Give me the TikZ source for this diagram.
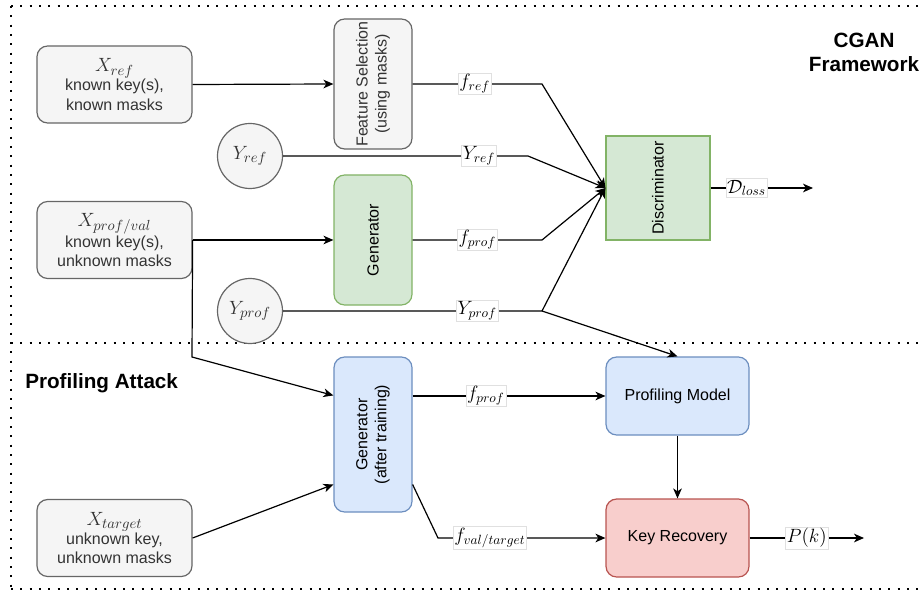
\documentclass[tikz,border=0pt]{standalone}
\usepackage{fontspec}
\setmainfont{Liberation Sans}
\usetikzlibrary{arrows.meta,calc}
\definecolor{grayfill}{HTML}{F5F5F5}
\definecolor{graydraw}{HTML}{666666}
\definecolor{graytext}{HTML}{333333}
\definecolor{greenfill}{HTML}{D5E8D4}
\definecolor{greendraw}{HTML}{82B366}
\definecolor{bluefill}{HTML}{DAE8FC}
\definecolor{bluedraw}{HTML}{6C8EBF}
\definecolor{redfill}{HTML}{F8CECC}
\definecolor{reddraw}{HTML}{B85450}
\newcommand{\bigmath}[1]{{\fontsize{15.5}{15}\selectfont$#1$}}
\begin{document}
\begin{tikzpicture}[x=0.75pt,y=-0.75pt,
  base/.style={font=\fontsize{12}{14.3}\selectfont, align=center, line width=0.9pt, inner sep=0pt},
  databox/.style={base, rectangle, rounded corners=8pt, fill=grayfill, draw=graydraw, text=graytext,
    minimum width=116.25pt, minimum height=57.75pt},
  labelcircle/.style={base, circle, fill=grayfill, draw=graydraw, text=graytext, minimum size=48.75pt},
  graybox/.style={base, rectangle, rounded corners=8pt, fill=grayfill, draw=graydraw},
  greenbox/.style={base, rectangle, rounded corners=8pt, fill=greenfill, draw=greendraw},
  bluebox/.style={base, rectangle, rounded corners=8pt, fill=bluefill, draw=bluedraw},
  redbox/.style={base, rectangle, rounded corners=8pt, fill=redfill, draw=reddraw},
  vtext/.style={font=\fontsize{12}{14.3}\selectfont, align=center, rotate=90, inner sep=0pt},
  conn/.style={line width=0.9pt, draw=black},
  arr/.style={conn, -{Stealth[length=7.5pt,width=6.5pt,inset=2.2pt]}},
  lbl/.style={fill=white, draw=black!12, line width=0.4pt, inner sep=1pt,
    font=\fontsize{14.5}{14.5}\selectfont},
  frameline/.style={line width=1.6pt, dash pattern=on 1.6pt off 5.4pt},
  title/.style={font=\fontsize{15.5}{18}\bfseries\selectfont, align=center, inner sep=0pt}
]
\useasboundingbox (0,0) rectangle (923,591);

% dotted section frames
\draw[frameline] (11,6) -- (923,6);
\draw[frameline] (11,6) -- (11,591);
\draw[frameline] (11,343) -- (923,343);
\draw[frameline] (11,589) -- (923,589);

% section titles
\node[title] (cgantitle) at (864,52) {CGAN\\Framework};
\node[title, anchor=west] (attacktitle) at (25,383) {Profiling Attack};

% data sources
\node[databox] (xref) at (114.5,84.5) {\bigmath{X_{ref}}\\known key(s),\\known masks};
\node[databox] (xprof) at (114.5,240) {\bigmath{X_{prof/val}}\\known key(s),\\unknown masks};
\node[databox] (xtarget) at (114.5,538) {\bigmath{X_{target}}\\unknown key,\\unknown masks};

% labels
\node[labelcircle] (yref) at (250,156) {\bigmath{Y_{ref}}};
\node[labelcircle] (yprof) at (250,311) {\bigmath{Y_{prof}}};

% processing blocks
\node[graybox, minimum width=58.5pt, minimum height=97.5pt] (fs) at (373,84) {};
\node[vtext, text=graytext] (fstext) at (fs) {Feature Selection\\(using masks)};
\node[greenbox, minimum width=58.5pt, minimum height=97.5pt] (gen) at (373,240) {};
\node[vtext] (gentext) at (gen) {Generator};
\node[greenbox, rounded corners=0pt, minimum width=78pt, minimum height=78pt] (disc) at (658,188) {};
\node[vtext] (disctext) at (disc) {Discriminator};
\node[bluebox, minimum width=58.5pt, minimum height=116.25pt] (gen2) at (373,434.5) {};
\node[vtext] (gen2text) at (gen2) {Generator\\(after training)};
\node[bluebox, minimum width=107.25pt, minimum height=58.5pt] (pm) at (677.5,396) {Profiling Model};
\node[redbox, minimum width=107.25pt, minimum height=58.5pt] (kr) at (677.5,538) {Key Recovery};

% bend and end points
\coordinate (bfref) at (542,84);
\coordinate (byref) at (528,156);
\coordinate (bfprof) at (542,240);
\coordinate (byprof) at (542,311);
\coordinate (dlossend) at (813,188);
\coordinate (xprofdown) at (192,357);
\coordinate (gen2in1) at ($(gen2.north west)!0.25!(gen2.south west)$);
\coordinate (gen2in2) at ($(gen2.north west)!0.82!(gen2.south west)$);
\coordinate (gen2out2) at ($(gen2.north east)!0.82!(gen2.south east)$);
\coordinate (bfval) at (438,538);
\coordinate (pkend) at (864,538);

% CGAN connectors
\draw[arr] (xref.east) -- (fs.west);
\draw[arr] (xprof.east) -- (gen.west);
\draw[arr] (fs.east) -- node[lbl, pos=0.48] (lfref) {$f_{ref}$} (bfref) -- (disc.west);
\draw[arr] (yref.east) -- node[lbl, pos=0.8] (lyref) {$Y_{ref}$} (byref) -- (disc.west);
\draw[arr] (gen.east) -- node[lbl, pos=0.5] (lfprof) {$f_{prof}$} (bfprof) -- (disc.west);
\draw[arr] (yprof.east) -- node[lbl, pos=0.75] (lyprof) {$Y_{prof}$} (byprof) -- (disc.west);
\draw[arr] (byprof) -- (pm.north);
\draw[arr] (disc.east) -- node[lbl, pos=0.35] (ldloss) {$\mathcal{D}_{loss}$} (dlossend);

% attack connectors
\draw[arr] (xprof.east) -- (xprofdown) -- (gen2in1);
\draw[arr] (xtarget.east) -- (gen2in2);
\draw[arr] (pm.west -| gen2.east) -- node[lbl, pos=0.38] (lfprof2) {$f_{prof}$} (pm.west);
\draw[arr] (gen2out2) -- (bfval) -- node[lbl, pos=0.31] (lfval) {$f_{val/target}$} (kr.west);
\draw[arr] (pm.south) -- (kr.north);
\draw[arr] (kr.east) -- node[lbl, pos=0.5] (lpk) {$P(k)$} (pkend);
\end{tikzpicture}
\end{document}
